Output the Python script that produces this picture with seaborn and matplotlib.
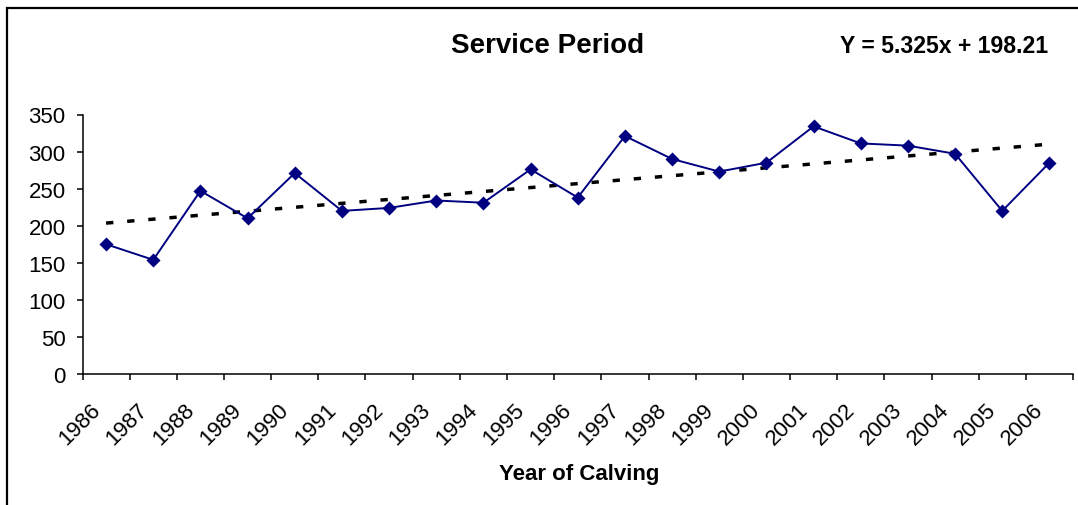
import numpy as np
import pandas as pd
import matplotlib
matplotlib.use("Agg")
import matplotlib.pyplot as plt
import matplotlib.transforms as mtransforms
from matplotlib.patches import Rectangle
import seaborn as sns

# ---- data ----
years = ["1986", "1987", "1988", "1989", "1990", "1991", "1992", "1993", "1994",
         "1995", "1996", "1997", "1998", "1999", "2000", "2001", "2002", "2003",
         "2004", "2005", "2006"]
service_period = [175, 154, 247, 210, 271, 220, 224, 234, 231, 276, 238, 321,
                  290, 273, 285, 334, 311, 308, 297, 220, 285]
trend_slope = 5.325
trend_intercept = 198.21
y_ticks = [0, 50, 100, 150, 200, 250, 300, 350]
title_text = "Service Period"
equation_text = "Y = 5.325x + 198.21"
x_label = "Year of Calving"

sns.set_theme(style="ticks")
plt.rcParams["font.family"] = ["Liberation Sans", "DejaVu Sans"]
plt.rcParams["axes.edgecolor"] = "black"
plt.rcParams["xtick.color"] = "black"
plt.rcParams["ytick.color"] = "black"
plt.rcParams["text.color"] = "black"

W, H, DPI = 1078, 506, 100
fig = plt.figure(figsize=(W / DPI, H / DPI), dpi=DPI)
ax = fig.add_axes([82.5 / W, (H - 375) / H, (1073 - 82.5) / W, (375 - 115.5) / H])

df = pd.DataFrame({"Year": years, "Days": service_period})
sns.pointplot(data=df, x="Year", y="Days", color="#000080", markers="D",
              markersize=6.6, linewidth=1.4, ax=ax, errorbar=None)

# linear trend line from the given equation (x = 1..n)
idx = np.arange(len(years))
trend = trend_slope * (idx + 1) + trend_intercept
ax.plot(idx, trend, color="black", linewidth=2.5, linestyle=(0, (2.1, 4.0)),
        dash_capstyle="butt", zorder=1)

ax.set_xlim(-0.5, len(years) - 0.5)
ax.set_ylim(0, 350)
ax.set_yticks(y_ticks)
ax.set_yticklabels([str(v) for v in y_ticks], fontsize=16)
ax.set_xlabel("")
ax.set_ylabel("")

# category boundary tick marks
ax.set_xticks(np.arange(len(years) + 1) - 0.5, minor=True)
ax.tick_params(axis="x", which="minor", length=4.5, width=1.1, direction="out")
ax.tick_params(axis="x", which="major", length=0, pad=23)
ax.tick_params(axis="y", which="major", length=4.2, width=1.1, pad=8, direction="out")
ax.set_xticks(idx)
ax.set_xticklabels(years, fontsize=16)
offset = mtransforms.ScaledTranslation(-9 / DPI, 0, fig.dpi_scale_trans)
for lab in ax.get_xticklabels():
    lab.set_rotation(45)
    lab.set_ha("right")
    lab.set_va("center")
    lab.set_rotation_mode("anchor")
    lab.set_transform(lab.get_transform() + offset)

for s in ["top", "right"]:
    ax.spines[s].set_visible(False)
for s in ["left", "bottom"]:
    ax.spines[s].set_linewidth(1.1)
    ax.spines[s].set_color("black")

fig.text(548 / W, (H - 53.3) / H, title_text, ha="center", va="baseline",
         fontsize=20, fontweight="bold")
fig.text(840 / W, (H - 53.3) / H, equation_text, ha="left", va="baseline",
         fontsize=16.6, fontweight="bold")
fig.text(579 / W, (H - 480) / H, x_label, ha="center", va="baseline",
         fontsize=16, fontweight="bold")

# chart-area frame (cropped on right and bottom)
fig.patches.append(Rectangle((6.5 / W, -20 / H), (W + 20) / W, (H - 8.5 + 20) / H,
                             transform=fig.transFigure, fill=False,
                             edgecolor="black", linewidth=1.6, clip_on=False))

fig.savefig("out.png", dpi=DPI)
